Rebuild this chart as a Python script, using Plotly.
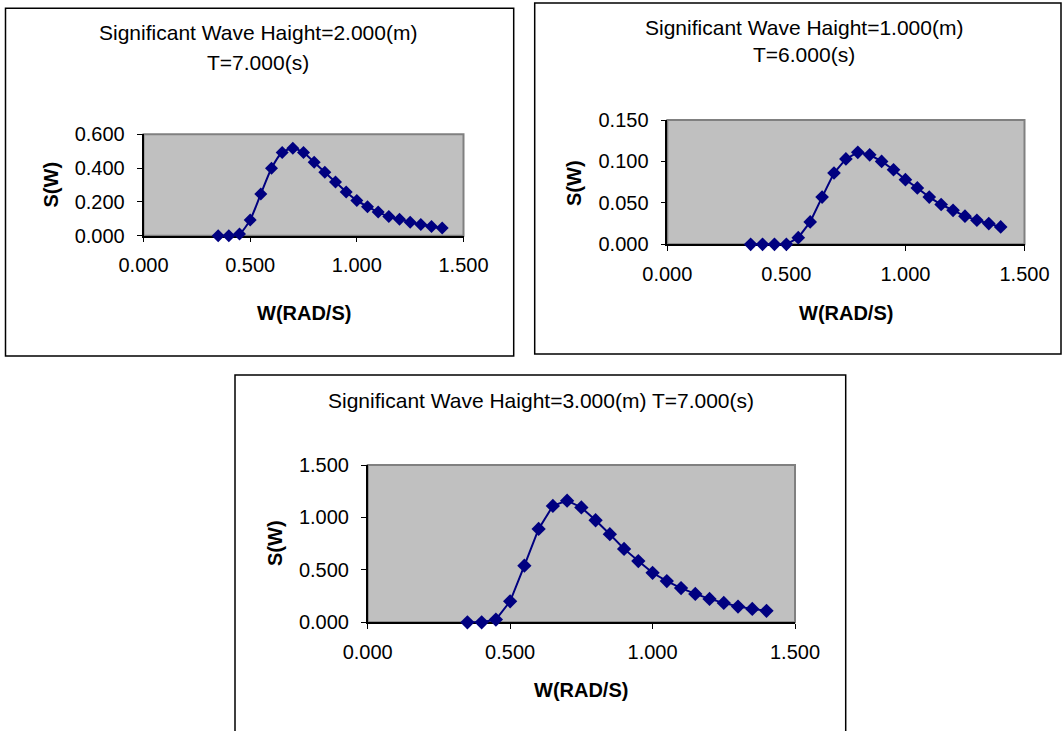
import plotly.graph_objects as go

# ---------------- data ----------------
omega = [0.35, 0.40, 0.45, 0.50, 0.55, 0.60, 0.65, 0.70, 0.75, 0.80, 0.85,
         0.90, 0.95, 1.00, 1.05, 1.10, 1.15, 1.20, 1.25, 1.30, 1.35, 1.40]

s_hs2_t7 = [0.000, 0.000, 0.010, 0.093, 0.247, 0.399, 0.493, 0.517, 0.493, 0.434, 0.375,
            0.318, 0.259, 0.209, 0.172, 0.140, 0.114, 0.097, 0.080, 0.066, 0.055, 0.045]

s_hs1_t6 = [0.000, 0.000, 0.000, 0.000, 0.008, 0.027, 0.057, 0.086, 0.103, 0.111, 0.108,
            0.100, 0.090, 0.078, 0.068, 0.057, 0.048, 0.041, 0.034, 0.029, 0.025, 0.021]

s_hs3_t7 = [0.000, 0.000, 0.026, 0.200, 0.540, 0.890, 1.110, 1.160, 1.095, 0.973, 0.840,
            0.700, 0.584, 0.472, 0.393, 0.326, 0.271, 0.223, 0.185, 0.150, 0.128, 0.109]

titles = [["Significant Wave Haight=2.000(m)", "T=7.000(s)"],
          ["Significant Wave Haight=1.000(m)", "T=6.000(s)"],
          ["Significant Wave Haight=3.000(m) T=7.000(s)"]]
x_title = "W(RAD/S)"
y_title = "S(W)"
x_ticks = [0.0, 0.5, 1.0, 1.5]
y_ticks = [[0.0, 0.2, 0.4, 0.6], [0.0, 0.05, 0.10, 0.15], [0.0, 0.5, 1.0, 1.5]]

# ---------------- layout helpers ----------------
W, H = 1064, 731
def fx(p):
    return p / W
def fy(p):
    return 1 - p / H

FONT = "Liberation Sans, Arial, sans-serif"
NAVY = "#000080"

areas = [(143.5, 463.5, 134.3, 235.7),
         (667.3, 1024.5, 120.0, 244.3),
         (367.7, 795.0, 465.0, 622.3)]
boxes = [(5.5, 513.7, 8.3, 356.0),
         (534.7, 1061.0, 3.0, 354.0),
         (235.0, 845.7, 375.0, 745.0)]
title_pos = [[(258, 32.5), (258, 62.5)],
             [(804, 27), (804, 55)],
             [(541, 400)]]
ytitle_pos = [(50.5, 185), (574, 183), (275, 543)]
xtitle_pos = [(303.5, 313), (846, 313), (581, 690)]

series = [s_hs2_t7, s_hs1_t6, s_hs3_t7]
shapes_line = ["spline", "linear", "linear"]
marker_sizes = [10, 10.5, 11]

fig = go.Figure()
shapes = []
annotations = []

for i in range(3):
    sfx = "" if i == 0 else str(i + 1)
    xa = "x" + sfx
    ya = "y" + sfx
    fig.add_trace(go.Scatter(
        x=omega, y=series[i], xaxis=xa, yaxis=ya, mode="lines+markers",
        line=dict(color=NAVY, width=2, shape=shapes_line[i], smoothing=0.6),
        marker=dict(symbol="diamond", size=marker_sizes[i], color=NAVY),
        cliponaxis=False, showlegend=False, hoverinfo="x+y"))
    l, r, t, b = areas[i]
    common = dict(showgrid=False, zeroline=False, showline=True, linecolor="#000000",
                  linewidth=1.5, ticks="outside", ticklen=5, tickcolor="#000000",
                  tickwidth=1, tickformat=".3f", layer="below traces", automargin=False,
                  tickfont=dict(family=FONT, size=20, color="#000000"))
    fig.layout["xaxis" + sfx] = dict(domain=[fx(l), fx(r)], anchor=ya, range=[0, 1.5],
                                     tickvals=x_ticks, ticklabelstandoff=6, **common)
    fig.layout["yaxis" + sfx] = dict(domain=[fy(b), fy(t)], anchor=xa,
                                     range=[0, y_ticks[i][-1]], tickvals=y_ticks[i],
                                     ticklabelstandoff=8, **common)
    shapes.append(dict(type="rect", xref=xa + " domain", yref=ya + " domain",
                       x0=0, x1=1, y0=0, y1=1, layer="below",
                       line=dict(color="#808080", width=2)))
    bl, br, bt, bb = boxes[i]
    shapes.append(dict(type="rect", xref="paper", yref="paper",
                       x0=fx(bl), x1=fx(br), y0=fy(bb), y1=fy(bt),
                       line=dict(color="#000000", width=1.5)))
    for txt, (px, py) in zip(titles[i], title_pos[i]):
        annotations.append(dict(text=txt, x=fx(px), y=fy(py), xref="paper", yref="paper",
                                showarrow=False, xanchor="center", yanchor="middle",
                                font=dict(family=FONT, size=21, color="#000000")))
    px, py = xtitle_pos[i]
    annotations.append(dict(text="<b>" + x_title + "</b>", x=fx(px), y=fy(py),
                            xref="paper", yref="paper", showarrow=False,
                            xanchor="center", yanchor="middle",
                            font=dict(family=FONT, size=20, color="#000000")))
    px, py = ytitle_pos[i]
    annotations.append(dict(text="<b>" + y_title + "</b>", x=fx(px), y=fy(py),
                            xref="paper", yref="paper", showarrow=False, textangle=-90,
                            xanchor="center", yanchor="middle",
                            font=dict(family=FONT, size=20, color="#000000")))

fig.update_layout(width=W, height=H, autosize=False,
                  margin=dict(l=0, r=0, t=0, b=0, autoexpand=False),
                  paper_bgcolor="#FFFFFF", plot_bgcolor="#C0C0C0",
                  shapes=shapes, annotations=annotations, showlegend=False)

# remove the default page margin so the figure sits at the window origin
fig.write_html("out.html", config={"displayModeBar": False},
               post_script="document.body.style.margin='0px';")
